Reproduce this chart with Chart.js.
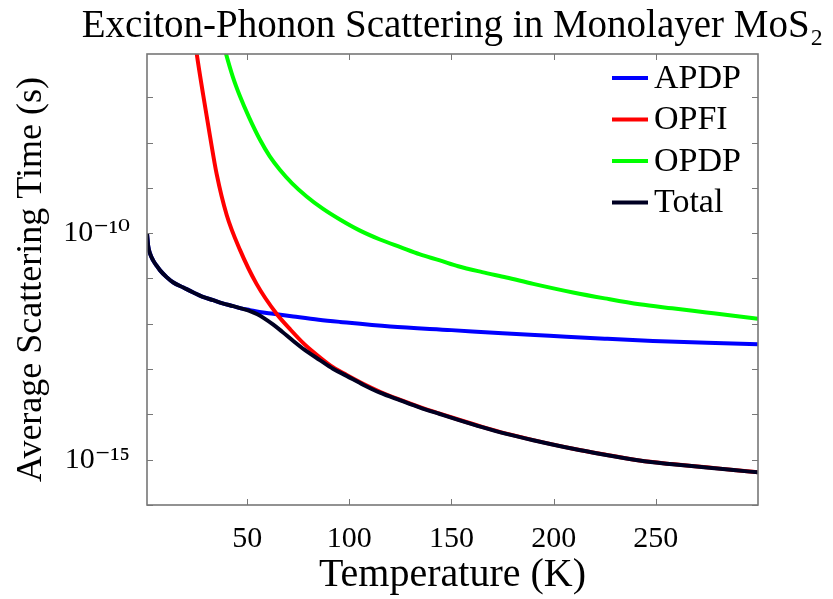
<!DOCTYPE html>
<html>
<head>
<meta charset="utf-8">
<script src="https://cdn.jsdelivr.net/npm/chart.js@4.4.1/dist/chart.umd.min.js"></script>
<style>
  body { margin: 0; background: #fff; }
  #wrap { width: 833px; height: 599px; }
</style>
</head>
<body>
<div id="wrap"><canvas id="scatterChart"></canvas></div>
<script>
// temperatures (K) and scattering times (s)
const apdpT = [1, 1.6, 2.5, 4, 5.7, 7.4, 10.6, 13.9, 18.8, 23.7, 28, 33.4, 38, 43.2, 47, 51.4, 56, 62.8, 72.6, 85, 95.4, 120, 150, 175, 198, 225, 248.6, 275, 300];
const apdpTau = [1.0e-10, 5.13e-11, 3.55e-11, 2.51e-11, 1.91e-11, 1.51e-11, 1.07e-11, 8.13e-12, 6.31e-12, 4.90e-12, 3.98e-12, 3.31e-12, 2.82e-12, 2.45e-12, 2.19e-12, 2.00e-12, 1.82e-12, 1.66e-12, 1.45e-12, 1.23e-12, 1.10e-12, 8.71e-13, 7.24e-13, 6.17e-13, 5.43e-13, 4.68e-13, 4.17e-13, 3.80e-13, 3.55e-13];

const opfiT = [22, 25.3, 28.5, 31.8, 35.1, 40, 46.5, 54.6, 64.4, 71, 78, 85.6, 92, 98.7, 107, 115, 125, 134.6, 144.3, 153.3, 165, 176.9, 190, 209.5, 225, 242, 258, 274.8, 288, 300];
const opfiTau = [1.26e-5, 9.33e-7, 1.12e-7, 1.41e-8, 2.00e-9, 2.51e-10, 4.27e-11, 7.59e-12, 1.66e-12, 7.59e-13, 3.55e-13, 1.82e-13, 1.10e-13, 7.41e-14, 4.68e-14, 3.16e-14, 2.09e-14, 1.45e-14, 1.04e-14, 7.70e-15, 5.30e-15, 3.75e-15, 2.71e-15, 1.75e-15, 1.30e-15, 9.60e-16, 8.00e-16, 6.80e-16, 5.93e-16, 5.28e-16];

const opdpT = [36, 39.6, 43, 46.5, 51, 56.3, 61, 66, 72, 79.1, 87, 95.4, 105, 115, 125, 134.6, 144.3, 153.3, 165, 176.9, 190, 209.5, 225, 242, 258, 274.8, 288, 300];
const opdpTau = [3.98e-6, 9.33e-7, 2.82e-7, 1.05e-7, 3.55e-8, 1.15e-8, 5.01e-9, 2.51e-9, 1.26e-9, 6.46e-10, 3.47e-10, 2.00e-10, 1.15e-10, 7.24e-11, 4.90e-11, 3.39e-11, 2.51e-11, 1.86e-11, 1.38e-11, 1.05e-11, 7.59e-12, 4.90e-12, 3.63e-12, 2.69e-12, 2.19e-12, 1.78e-12, 1.51e-12, 1.29e-12];

const totalT = [1, 1.6, 2.5, 4, 5.7, 7.4, 10.6, 13.9, 18.8, 23.7, 28, 33.4, 38, 43.2, 47, 51.4, 55, 58, 62.8, 67, 72.6, 78, 85.6, 92, 98.7, 107, 115, 125, 134.6, 144.3, 153.3, 165, 176.9, 190, 209.5, 225, 242, 258, 274.8, 288, 300];
const totalTau = [1.0e-10, 5.13e-11, 3.55e-11, 2.51e-11, 1.91e-11, 1.51e-11, 1.07e-11, 8.13e-12, 6.31e-12, 4.90e-12, 3.98e-12, 3.31e-12, 2.82e-12, 2.45e-12, 2.19e-12, 1.91e-12, 1.62e-12, 1.35e-12, 9.55e-13, 6.76e-13, 4.17e-13, 2.69e-13, 1.58e-13, 1.02e-13, 7.08e-14, 4.47e-14, 3.02e-14, 2.04e-14, 1.41e-14, 1.02e-14, 7.59e-15, 5.25e-15, 3.72e-15, 2.69e-15, 1.74e-15, 1.29e-15, 9.55e-16, 7.94e-16, 6.76e-16, 5.89e-16, 5.25e-16];

const seriesNames = ['APDP', 'OPFI', 'OPDP', 'Total'];
const seriesColors = ['#0000ff', '#ff0000', '#00ff00', '#000022'];

const chartTitle = 'Exciton-Phonon Scattering in Monolayer MoS₂';
const xTicks = [50, 100, 150, 200, 250];
const yTicks = [1e-16, 1e-15, 1e-14, 1e-13, 1e-12, 1e-11, 1e-10, 1e-9, 1e-8, 1e-7];
const yLabelValues = [1e-10, 1e-15];
const yLabelTexts = ['10⁻¹⁰', '10⁻¹⁵'];

const serif = "'Liberation Serif', 'DejaVu Serif', serif";
const axisGrey = '#777777';

function toPoints(xs, ys) {
  return xs.map((x, i) => ({ x: x, y: ys[i] }));
}

const xyData = [
  toPoints(apdpT, apdpTau),
  toPoints(opfiT, opfiTau),
  toPoints(opdpT, opdpTau),
  toPoints(totalT, totalTau)
];

// ticks pointing into the plot, on all four sides, plus the box
const boxTicks = {
  id: 'boxTicks',
  afterDatasetsDraw(chart) {
    const { ctx, chartArea: a, scales } = chart;
    const len = 6;
    ctx.save();
    ctx.strokeStyle = axisGrey;
    ctx.lineWidth = 1;
    ctx.beginPath();
    for (const v of xTicks) {
      const px = Math.round(scales.x.getPixelForValue(v)) + 0.5;
      ctx.moveTo(px, a.bottom); ctx.lineTo(px, a.bottom - len);
      ctx.moveTo(px, a.top); ctx.lineTo(px, a.top + len);
    }
    for (const v of yTicks) {
      const py = Math.round(scales.y.getPixelForValue(v)) + 0.5;
      ctx.moveTo(a.left, py); ctx.lineTo(a.left + len, py);
      ctx.moveTo(a.right, py); ctx.lineTo(a.right - len, py);
    }
    ctx.stroke();
    ctx.lineWidth = 1.6;
    ctx.strokeRect(a.left, a.top, a.right - a.left, a.bottom - a.top);
    ctx.restore();
  }
};

// title centred over the axes, legend inside the axes (top right, no box)
const titleAndLegend = {
  id: 'titleAndLegend',
  afterDraw(chart) {
    const { ctx, chartArea: a } = chart;
    ctx.save();
    ctx.fillStyle = '#000';
    ctx.font = '39px ' + serif;
    ctx.textAlign = 'center';
    ctx.textBaseline = 'alphabetic';
    ctx.fillText(chartTitle, (a.left + a.right) / 2, 37);

    ctx.font = '34px ' + serif;
    ctx.textAlign = 'left';
    ctx.textBaseline = 'middle';
    seriesNames.forEach((name, i) => {
      const y = a.top + 24 + i * 41.5;
      const x0 = a.right - 146;
      ctx.strokeStyle = seriesColors[i];
      ctx.lineWidth = 4;
      ctx.beginPath();
      ctx.moveTo(x0, y);
      ctx.lineTo(x0 + 36, y);
      ctx.stroke();
      ctx.fillText(name, x0 + 42, y + 1);
    });
    ctx.restore();
  }
};

const ctx = document.getElementById('scatterChart').getContext('2d');
const scatterChart = new Chart(ctx, {
  type: 'line',
  data: {
    datasets: seriesNames.map((name, i) => ({
      label: name,
      data: xyData[i],
      borderColor: seriesColors[i],
      backgroundColor: seriesColors[i],
      borderWidth: 4,
      pointRadius: 0,
      cubicInterpolationMode: 'monotone',
      order: name === 'Total' ? 0 : 4 - i
    }))
  },
  options: {
    responsive: true,
    maintainAspectRatio: false,
    animation: false,
    layout: { padding: { left: 0, right: 75, top: 54, bottom: 0 } },
    plugins: {
      legend: { display: false },
      tooltip: { enabled: false },
      title: { display: false }
    },
    scales: {
      x: {
        type: 'linear',
        min: 1,
        max: 300,
        afterBuildTicks: (scale) => { scale.ticks = xTicks.map(v => ({ value: v })); },
        afterFit: (scale) => { scale.height = 94; },
        grid: { display: false },
        border: { display: false },
        ticks: {
          color: '#000',
          padding: 8,
          maxRotation: 0,
          font: { family: serif, size: 30 },
          callback: (v) => String(v)
        },
        title: {
          display: true,
          text: 'Temperature (K)',
          color: '#000',
          font: { family: serif, size: 40, lineHeight: 1.2 },
          padding: { top: 0, bottom: 0 }
        }
      },
      y: {
        type: 'logarithmic',
        min: 1e-16,
        max: 9e-7,
        afterBuildTicks: (scale) => { scale.ticks = yTicks.map(v => ({ value: v })); },
        afterFit: (scale) => { scale.width = 147; },
        grid: { display: false },
        border: { display: false },
        ticks: {
          color: '#000',
          padding: 9,
          font: { family: serif, size: 30 },
          callback: (v) => {
            const k = yLabelValues.findIndex(t => Math.abs(Math.log10(t) - Math.log10(v)) < 1e-6);
            return k >= 0 ? yLabelTexts[k] : '';
          }
        },
        title: {
          display: true,
          text: 'Average Scattering Time (s)',
          color: '#000',
          font: { family: serif, size: 36, lineHeight: 1.2 },
          padding: { top: 10, bottom: 0 }
        }
      }
    }
  },
  plugins: [boxTicks, titleAndLegend]
});
</script>
</body>
</html>
